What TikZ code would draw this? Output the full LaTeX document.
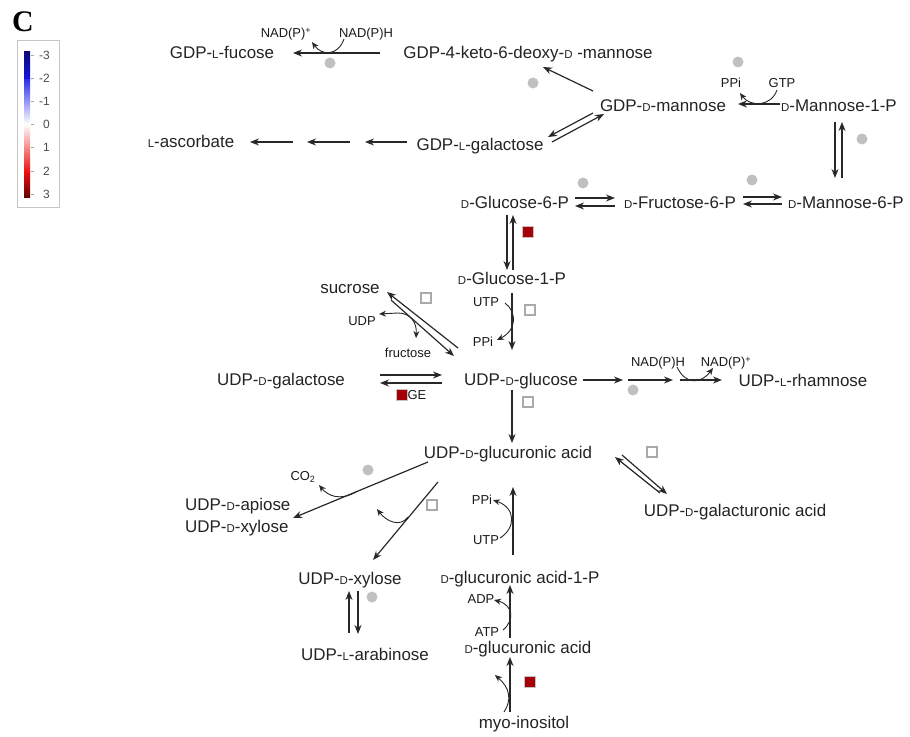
\documentclass[tikz,border=0pt]{standalone}
\usepackage{fontspec}
\setmainfont{Liberation Sans}
\newfontfamily\serifbold{Liberation Serif}
\usetikzlibrary{arrows.meta}
\definecolor{ln}{RGB}{40,40,40}
\definecolor{txt}{RGB}{35,35,35}
\definecolor{dotg}{RGB}{192,192,192}
\definecolor{sqg}{RGB}{170,170,170}
\definecolor{redsq}{RGB}{165,0,10}
\definecolor{navy1}{RGB}{10,10,120}
\definecolor{blue1}{RGB}{20,20,235}
\definecolor{blue2}{RGB}{50,50,235}
\definecolor{red1}{RGB}{235,15,15}
\definecolor{red2}{RGB}{105,0,0}
\newcommand{\smD}{{\fontsize{11.5}{12}\selectfont D}}
\newcommand{\smL}{{\fontsize{11.5}{12}\selectfont L}}
\begin{document}
\begin{tikzpicture}[x=1bp,y=-1bp,
  met/.style={font=\fontsize{17}{20}\selectfont, text=txt, inner sep=0pt, text height=12bp, text depth=0bp},
  cof/.style={font=\fontsize{13}{15}\selectfont, text=black!90, inner sep=0pt, text height=9bp, text depth=0bp},
  arr/.style={draw=ln, line width=1.2bp, -{Stealth[length=9bp,width=7bp]}},
  cfc/.style={draw=ln, line width=0.9bp, -{Stealth[length=7bp,width=6bp]}},
  cfcb/.style={draw=ln, line width=0.9bp, {Stealth[length=7bp,width=6bp]}-{Stealth[length=7bp,width=6bp]}},
  gdot/.style={circle, fill=dotg, minimum size=11bp, inner sep=0pt},
  osq/.style={draw=sqg, line width=1.3bp, minimum size=10bp, inner sep=0pt},
  rsq/.style={draw=sqg!70, fill=redsq, line width=1.6bp, minimum size=11bp, inner sep=0pt},
  tick/.style={draw=gray!70, line width=0.7bp},
  leg/.style={font=\fontsize{12}{13}\selectfont, text=black!70, inner sep=0pt, anchor=east}
]
\useasboundingbox (0,0) rectangle (910,737);

% ---------- panel letter and legend ----------
\node[font=\serifbold\bfseries\fontsize{30}{30}\selectfont, text=black, inner sep=0pt] (clab) at (23,22) {C};
\node[draw=gray!45, line width=0.8bp, minimum width=42bp, minimum height=167bp, inner sep=0pt] (legbox) at (38,123.5) {};
\shade[top color=navy1, bottom color=blue1] (24,52) rectangle (30,80);
\shade[top color=blue2, bottom color=white] (24,80) rectangle (30,124);
\shade[top color=white, bottom color=red1] (24,124) rectangle (30,172);
\shade[top color=red1, bottom color=red2] (24,172) rectangle (30,197);
\foreach \yy/\lab in {55/-3,78/-2,101/-1,124/0,147/1,171/2,194/3}{
  \draw[tick] (31,\yy) -- (34,\yy);
  \node[leg] at (50,\yy) {\lab};
}

% ---------- metabolites ----------
\node[met] (fucose) at (222,53) {GDP-\smL-fucose};
\node[met] (keto) at (528,53) {GDP-4-keto-6-deoxy-\smD\ -mannose};
\node[met] (gdpman) at (663,105) {GDP-\smD-mannose};
\node[met] (man1p) at (839,105) {\smD-Mannose-1-P};
\node[met] (ascorb) at (191,141) {\smL-ascorbate};
\node[met] (gdpgal) at (480,144) {GDP-\smL-galactose};
\node[met] (g6p) at (515,202) {\smD-Glucose-6-P};
\node[met] (f6p) at (680,202) {\smD-Fructose-6-P};
\node[met] (m6p) at (846,202) {\smD-Mannose-6-P};
\node[met] (g1p) at (512,278) {\smD-Glucose-1-P};
\node[met] (sucrose) at (350,287) {sucrose};
\node[met] (udpgal) at (281,379) {UDP-\smD-galactose};
\node[met] (udpglc) at (521,379) {UDP-\smD-glucose};
\node[met] (rham) at (803,380) {UDP-\smL-rhamnose};
\node[met] (glcA) at (508,452) {UDP-\smD-glucuronic acid};
\node[met] (galA) at (735,510) {UDP-\smD-galacturonic acid};
\node[font=\fontsize{17}{22}\selectfont, text=txt, inner sep=0pt, align=left, anchor=west] (apiose) at (185,517) {UDP-\smD-apiose\\UDP-\smD-xylose};
\node[met] (xyl) at (350,578) {UDP-\smD-xylose};
\node[met] (arab) at (365,654) {UDP-\smL-arabinose};
\node[met] (ga1p) at (520,577) {\smD-glucuronic acid-1-P};
\node[met] (gluA) at (528,647) {\smD-glucuronic acid};
\node[met] (myo) at (524,722) {myo-inositol};

% ---------- cofactors ----------
\node[cof] (nadp1) at (286,33) {NAD(P)\textsuperscript{+}};
\node[cof] (nadph1) at (366,33) {NAD(P)H};
\node[cof] (ppi1) at (731,83) {PPi};
\node[cof] (gtp) at (782,83) {GTP};
\node[cof] (utp2) at (486,302) {UTP};
\node[cof] (ppi2) at (483,342) {PPi};
\node[cof] (udpl) at (362,321) {UDP};
\node[cof] (fruc) at (408,353) {fructose};
\node[cof] (ge) at (417,395) {GE};
\node[cof] (nadph2) at (658,362) {NAD(P)H};
\node[cof] (nadp2) at (726,362) {NAD(P)\textsuperscript{+}};
\node[cof] (co2) at (303,476) {CO\textsubscript{2}};
\node[cof] (ppi3) at (482,500) {PPi};
\node[cof] (utp3) at (486,540) {UTP};
\node[cof] (adp) at (481,599) {ADP};
\node[cof] (atp) at (487,632) {ATP};

% ---------- markers ----------
\foreach \n/\p in {d1/{(330,63)},d2/{(533,83)},d3/{(738,62)},d4/{(862,139)},d5/{(583,183)},d6/{(752,180)},d7/{(633,390)},d8/{(368,470)},d9/{(372,597)}}
  \node[gdot] (\n) at \p {};
\foreach \n/\p in {s1/{(426,298)},s2/{(530,310)},s3/{(528,402)},s4/{(652,452)},s5/{(432,505)}}
  \node[osq] (\n) at \p {};
\foreach \n/\p in {q1/{(528,232)},q2/{(402,395)},q3/{(530,682)}}
  \node[rsq] (\n) at \p {};

% ---------- connector end points ----------
\coordinate (k1) at (380,53);   \coordinate (k2) at (293,53);
\coordinate (m1) at (593,91);   \coordinate (m2) at (543,67);
\coordinate (g1) at (593,113);  \coordinate (g2) at (548,137);
\coordinate (g3) at (552,142);  \coordinate (g4) at (604,114);
\coordinate (a1) at (407,142);  \coordinate (a2) at (365,142);
\coordinate (a3) at (350,142);  \coordinate (a4) at (307,142);
\coordinate (a5) at (293,142);  \coordinate (a6) at (250,142);
\coordinate (p1) at (780,104);  \coordinate (p2) at (738,104);
\coordinate (v1) at (835,122);  \coordinate (v2) at (835,178);
\coordinate (v3) at (842,178);  \coordinate (v4) at (842,122);
\coordinate (f1) at (743,197);  \coordinate (f2) at (782,197);
\coordinate (f3) at (782,204);  \coordinate (f4) at (743,204);
\coordinate (h1) at (575,198);  \coordinate (h2) at (615,198);
\coordinate (h3) at (615,206);  \coordinate (h4) at (575,206);
\coordinate (u1) at (507,215);  \coordinate (u2) at (507,270);
\coordinate (u3) at (513,270);  \coordinate (u4) at (513,215);
\coordinate (w1) at (512,293);  \coordinate (w2) at (512,350);
\coordinate (sA1) at (458,348); \coordinate (sA2) at (387,292);
\coordinate (sB1) at (391,300); \coordinate (sB2) at (454,356);
\coordinate (e1) at (380,375);  \coordinate (e2) at (442,375);
\coordinate (e3) at (442,383);  \coordinate (e4) at (380,383);
\coordinate (r1) at (583,380);  \coordinate (r2) at (623,380);
\coordinate (r3) at (628,380);  \coordinate (r4) at (673,380);
\coordinate (r5) at (680,380);  \coordinate (r6) at (722,380);
\coordinate (x1) at (512,390);  \coordinate (x2) at (512,443);
\coordinate (t1) at (660,493);  \coordinate (t2) at (615,457);
\coordinate (t3) at (622,455);  \coordinate (t4) at (667,494);
\coordinate (ap1) at (428,462); \coordinate (ap2) at (293,518);
\coordinate (xy1) at (438,482); \coordinate (xy2) at (373,560);
\coordinate (ar1) at (349,633); \coordinate (ar2) at (349,591);
\coordinate (ar3) at (358,591); \coordinate (ar4) at (358,634);
\coordinate (c1) at (513,555);  \coordinate (c2) at (513,487);
\coordinate (c3) at (510,638);  \coordinate (c4) at (510,585);
\coordinate (c5) at (510,712);  \coordinate (c6) at (510,657);

% ---------- reactions ----------
\draw[arr] (k1) -- (k2);
\draw[arr] (m1) -- (m2);
\draw[arr] (g1) -- (g2);
\draw[arr] (g3) -- (g4);
\draw[arr] (a1) -- (a2);
\draw[arr] (a3) -- (a4);
\draw[arr] (a5) -- (a6);
\draw[arr] (p1) -- (p2);
\draw[arr] (v1) -- (v2);
\draw[arr] (v3) -- (v4);
\draw[arr] (f1) -- (f2);
\draw[arr] (f3) -- (f4);
\draw[arr] (h1) -- (h2);
\draw[arr] (h3) -- (h4);
\draw[arr] (u1) -- (u2);
\draw[arr] (u3) -- (u4);
\draw[arr] (w1) -- (w2);
\draw[arr] (sA1) -- (sA2);
\draw[arr] (sB1) -- (sB2);
\draw[arr] (e1) -- (e2);
\draw[arr] (e3) -- (e4);
\draw[arr] (r1) -- (r2);
\draw[arr] (r3) -- (r4);
\draw[arr] (r5) -- (r6);
\draw[arr] (x1) -- (x2);
\draw[arr] (t1) -- (t2);
\draw[arr] (t3) -- (t4);
\draw[arr] (ap1) -- (ap2);
\draw[arr] (xy1) -- (xy2);
\draw[arr] (ar1) -- (ar2);
\draw[arr] (ar3) -- (ar4);
\draw[arr] (c1) -- (c2);
\draw[arr] (c3) -- (c4);
\draw[arr] (c5) -- (c6);

% ---------- cofactor side arcs ----------
\coordinate (cf1a) at (344,39); \coordinate (cf1b) at (312,42);
\draw[cfc] (cf1a) .. controls (338,56) and (322,56) .. (cf1b);
\coordinate (cf2a) at (777,90); \coordinate (cf2b) at (740,93);
\draw[cfc] (cf2a) .. controls (771,107) and (750,107) .. (cf2b);
\coordinate (cf3a) at (505,303); \coordinate (cf3b) at (497,340);
\draw[cfc] (cf3a) .. controls (517,312) and (517,330) .. (cf3b);
\coordinate (cf4a) at (379,314); \coordinate (cf4m) at (398,313); \coordinate (cf4b) at (416,338);
\draw[cfcb] (cf4a) -- (cf4m) .. controls (410,313) and (417,322) .. (cf4b);
\coordinate (cf5a) at (677,367); \coordinate (cf5b) at (713,368);
\draw[cfc] (cf5a) .. controls (685,384) and (700,385) .. (cf5b);
\coordinate (cf6a) at (356,492); \coordinate (cf6b) at (319,485);
\draw[cfc] (cf6a) .. controls (340,501) and (328,496) .. (cf6b);
\coordinate (cf7a) at (408,517); \coordinate (cf7b) at (377,509);
\draw[cfc] (cf7a) .. controls (400,528) and (386,521) .. (cf7b);
\coordinate (cf8a) at (500,538); \coordinate (cf8b) at (493,500);
\draw[cfc] (cf8a) .. controls (516,528) and (516,508) .. (cf8b);
\coordinate (cf9a) at (503,630); \coordinate (cf9b) at (494,600);
\draw[cfc] (cf9a) .. controls (515,620) and (513,605) .. (cf9b);
\coordinate (cf10a) at (504,712); \coordinate (cf10b) at (495,675);
\draw[cfc] (cf10a) .. controls (512,700) and (510,688) .. (cf10b);
\end{tikzpicture}
\end{document}
